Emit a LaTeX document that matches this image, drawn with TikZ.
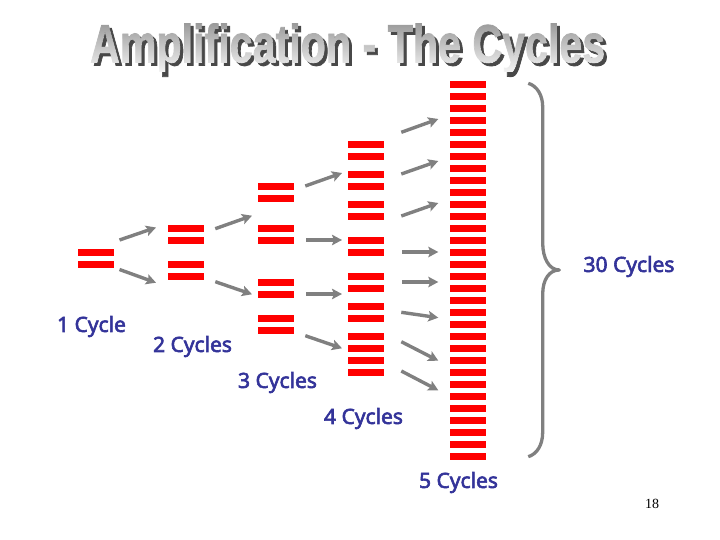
\documentclass[tikz,border=0pt]{standalone}
\usepackage{fontspec}
\newfontfamily\lblfont[FakeBold=2.8]{Noto Sans}
\newfontfamily\titlefont[FakeBold=1.6]{Liberation Sans Bold}
\newfontfamily\pagefont{Liberation Serif}
\usetikzlibrary{arrows.meta,fadings}
\definecolor{barred}{RGB}{255,0,0}
\definecolor{arrgray}{RGB}{128,128,128}
\definecolor{lblue}{RGB}{51,51,153}
\tikzset{
  bar/.style={fill=barred,draw=none,inner sep=0pt,minimum width=36pt,minimum height=6.6pt},
  arr/.style={draw=arrgray,line width=3.4pt,-{Stealth[length=10pt,width=10.5pt,inset=2pt]}},
  brc/.style={draw=arrgray,line width=3.3pt,line join=round},
  lbl/.style={text=lblue,font=\lblfont\fontsize{21}{24}\selectfont,inner sep=0pt},
  ttl/.style={font=\titlefont\fontsize{54}{60}\selectfont,xscale=0.763,inner sep=0pt}
}
\begin{tikzfadingfrompicture}[name=titlemask]
\node[ttl,text=transparent!0] (titlemasktext) at (0,0) {Amplification - The Cycles};
\end{tikzfadingfrompicture}
\begin{document}
\begin{tikzpicture}[x=1pt,y=-1pt]
\useasboundingbox (0,0) rectangle (720,540);
% title
\node[ttl,anchor=base west,text={rgb,255:red,72;green,72;blue,72}] (titleshadow) at (93,65.5) {Amplification - The Cycles};
\coordinate (titlepos) at ([shift={(-3,-3)}]titleshadow.center);
\shade[path fading=titlemask,fit fading=false,fading transform={shift={(titlepos)}},
  top color={rgb,255:red,145;green,145;blue,145},bottom color={rgb,255:red,244;green,244;blue,244},middle color={rgb,255:red,195;green,195;blue,195}]
  (70,18) rectangle (640,72);
% bars
\foreach \i/\y in {1/252.3,2/264.3} \node[bar] (ca\i) at (96,\y) {};
\foreach \i/\y in {1/228.3,2/240.3,3/264.3,4/276.3} \node[bar] (cb\i) at (186,\y) {};
\foreach \i/\y in {1/186.3,2/198.3,3/228.3,4/240.3,5/282.3,6/294.3,7/318.3,8/330.3} \node[bar] (cc\i) at (276,\y) {};
\foreach \i/\y in {1/144.3,2/156.3,3/174.3,4/186.3,5/204.3,6/216.3,7/240.3,8/252.3,9/276.3,10/288.3,11/306.3,12/318.3,13/336.3,14/348.3,15/360.3,16/372.3} \node[bar] (cd\i) at (366,\y) {};
\foreach \i in {0,...,31} \node[bar] (ce\i) at (468,{84.3+12*\i}) {};
% arrows
\foreach \n/\xa/\ya/\xb/\yb in {
 a1/119.5/240/156/227.5, a2/119.5/269.5/156/282.7,
 b1/215.3/228.7/252/215.7, b2/215.3/281.7/252/294.3,
 c1/305.3/186/342/173, c2/306/240/342/240, c3/306/294/342/294, c4/305.3/335.7/342/348.3,
 d1/401.3/132.3/438.3/119, d2/401.3/174/438.3/161, d3/401.3/216/438.3/203, d4/402/252/438.3/252,
 d5/402/282/438.3/282, d6/401.3/312.3/438.3/317.7, d7/401.3/341.7/438.3/360.7, d8/401.3/371/438.3/390.3}{
  \coordinate (\n s) at (\xa,\ya);
  \coordinate (\n e) at (\xb,\yb);
  \draw[arr] (\n s) -- (\n e);
}
% brace
\coordinate (bt) at (528.3,83.3);
\coordinate (bm) at (559.3,270);
\coordinate (bb) at (528.3,456.7);
\draw[brc] (bt) .. controls (537,86) and (542.7,95) .. (542.7,107) -- (542.7,243)
  .. controls (542.7,258) and (549,270) .. (bm)
  .. controls (549,270) and (542.7,280) .. (542.7,294) -- (542.7,432)
  .. controls (542.7,445) and (537,454) .. (bb);
% labels
\node[lbl] (l1) at (91.5,326.5) {1 Cycle};
\node[lbl] (l2) at (192.5,346.5) {2 Cycles};
\node[lbl] (l3) at (277.5,382.5) {3 Cycles};
\node[lbl] (l4) at (363.5,418.5) {4 Cycles};
\node[lbl] (l5) at (458.5,482.5) {5 Cycles};
\node[lbl] (l30) at (629,266.5) {30 Cycles};
\node[inner sep=0pt,font=\pagefont\fontsize{14}{16}\selectfont] (pg) at (652,504) {18};
\end{tikzpicture}
\end{document}
